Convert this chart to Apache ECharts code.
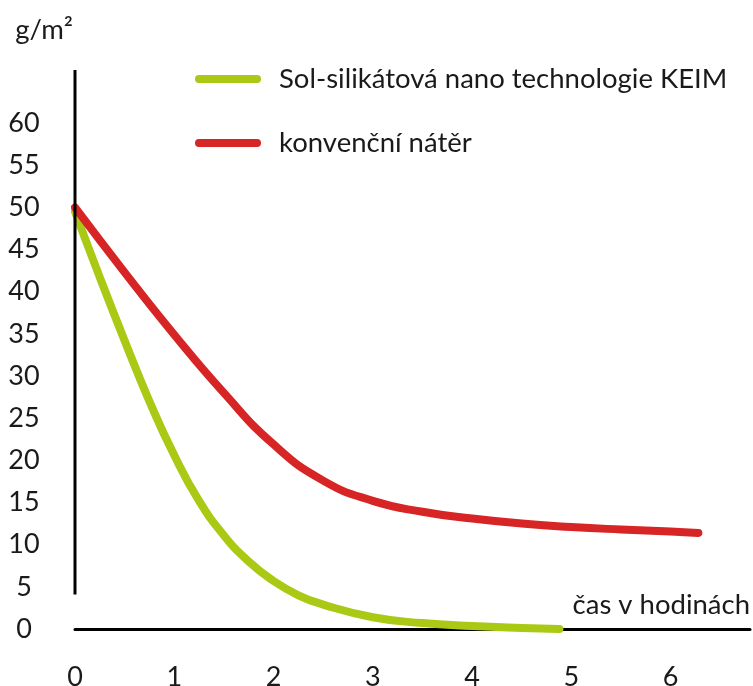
<!DOCTYPE html>
<html>
<head>
<meta charset="utf-8">
<script src="https://cdn.jsdelivr.net/npm/echarts@6/dist/echarts.min.js"></script>
<style>
  html, body { margin: 0; padding: 0; background: #fff; }
  #chart { width: 753px; height: 686px; }
</style>
</head>
<body>
<div id="chart"></div>
<script>
// hodnoty
const solData = [[0, 49.5], [0.25, 41.7], [0.5, 34.2], [0.75, 27], [1, 20.6], [1.25, 15.2], [1.5, 11.1], [1.75, 8.0], [2, 5.7], [2.25, 4.0], [2.5, 2.9], [3, 1.4], [3.5, 0.7], [4, 0.35], [4.5, 0.12], [4.88, 0]]
const konvData = [[0, 50], [0.5, 42.3], [1, 34.9], [1.5, 28.0], [2, 21.9], [2.5, 17.6], [3, 15.2], [3.5, 13.9], [4, 13.1], [4.5, 12.5], [5, 12.1], [5.5, 11.8], [6, 11.55], [6.28, 11.4]]
const seriesNames = ['Sol-silikátová nano technologie KEIM', 'konvenční nátěr']
const xTicks = [0, 1, 2, 3, 4, 5, 6]
const yTicks = [0, 5, 10, 15, 20, 25, 30, 35, 40, 45, 50, 55, 60]

const font = 'Lato'
const txt = '#1a1a1a'
const chart = echarts.init(document.getElementById('chart'))

const option = {
  animation: false,
  textStyle: { fontFamily: font },
  grid: { left: 75, right: 3, top: 70, bottom: 57, containLabel: false, outerBoundsMode: 'none' },
  legend: {
    orient: 'vertical',
    left: 190,
    top: 60,
    itemWidth: 66,
    itemHeight: 8,
    itemGap: 36,
    icon: 'path://M4,0 H62 A4,4 0 0 1 62,8 H4 A4,4 0 0 1 4,0 Z',
    textStyle: { fontSize: 27.5, color: txt, padding: [0, 0, 0, 13] },
    data: seriesNames
  },
  xAxis: {
    type: 'value',
    min: 0,
    max: 6.8,
    offset: 3,
    name: 'čas v hodinách',
    nameLocation: 'end',
    nameGap: 0,
    nameTextStyle: { fontSize: 27.5, color: txt, align: 'right', verticalAlign: 'bottom', padding: [0, 0, 10, 0] },
    axisLine: { show: true, lineStyle: { color: '#000', width: 3 } },
    axisTick: { show: false },
    splitLine: { show: false },
    axisLabel: { customValues: xTicks, fontSize: 27, color: txt, margin: 32 }
  },
  yAxis: {
    type: 'value',
    min: 0,
    max: 66.3,
    name: 'g/m²',
    nameLocation: 'end',
    nameGap: 40,
    nameTextStyle: { fontSize: 27.5, color: txt, align: 'right', verticalAlign: 'middle', padding: [0, 2, 0, 0] },
    axisLine: { show: false },
    axisTick: { show: false },
    splitLine: { show: false },
    axisLabel: { customValues: yTicks, fontSize: 27, color: txt, align: 'center', margin: 51 }
  },
  series: [
    {
      name: seriesNames[0],
      type: 'line',
      data: solData,
      smooth: 0.5,
      showSymbol: false,
      color: '#a9c915',
      lineStyle: { width: 8, cap: 'round', join: 'round' }
    },
    {
      name: seriesNames[1],
      type: 'line',
      data: konvData,
      smooth: 0.5,
      showSymbol: false,
      color: '#d72424',
      lineStyle: { width: 8, cap: 'round', join: 'round' },
      z: 3
    }
  ]
}
chart.setOption(option)

// svislá osa – končí kousek nad nulou
const axisTop = chart.convertToPixel({ gridIndex: 0 }, [0, 66.3])
const axisBottom = chart.convertToPixel({ gridIndex: 0 }, [0, 4.1])
chart.setOption({
  graphic: [{
    type: 'line',
    shape: { x1: axisTop[0], y1: axisTop[1], x2: axisBottom[0], y2: axisBottom[1] },
    style: { stroke: '#000', lineWidth: 3 },
    z: 10
  }]
})
</script>
</body>
</html>
